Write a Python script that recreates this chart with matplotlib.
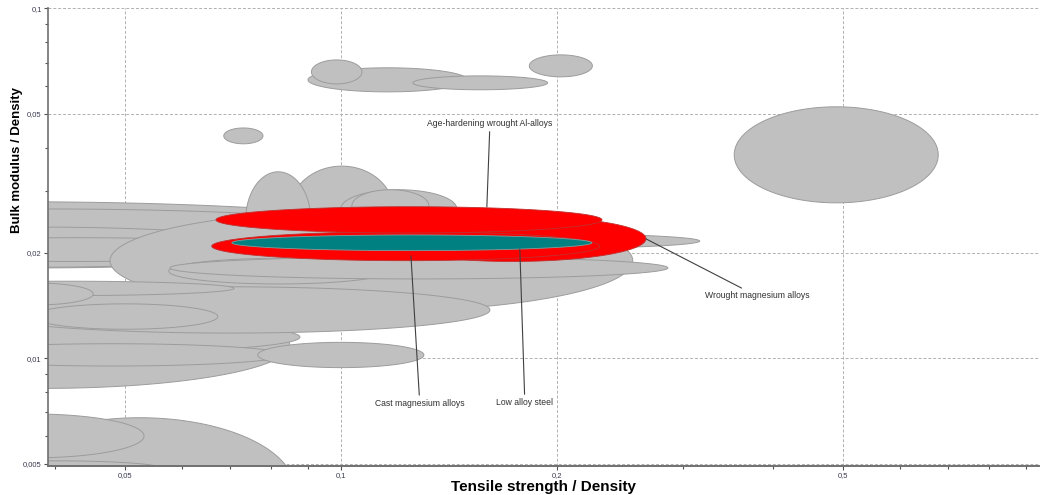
import numpy as np
import matplotlib
matplotlib.use('Agg')
import matplotlib.pyplot as plt
from matplotlib.ticker import FixedLocator, FixedFormatter, NullFormatter

plt.rcParams['font.family'] = ['Liberation Sans', 'DejaVu Sans']

# background material families: (low, high) ranges of each property
bg_strength = [
    (0.0093, 0.133), (0.0128, 0.117), (0.0176, 0.0822), (0.0207, 0.0877),
    (0.0849, 0.1185), (0.0737, 0.0908), (0.100, 0.145), (0.1036, 0.1326),
    (0.0176, 0.0849), (0.0243, 0.0877), (0.0276, 0.0836), (0.0766, 0.1305),
    (0.0477, 0.255), (0.0304, 0.1613), (0.0372, 0.0674), (0.0243, 0.0710),
    (0.0314, 0.0452), (0.0576, 0.1166), (0.0578, 0.2854), (0.0877, 0.316),
    (0.0319, 0.0863), (0.0259, 0.0532), (0.0285, 0.056),
    (0.090, 0.150), (0.091, 0.107), (0.126, 0.194), (0.183, 0.224),
    (0.0687, 0.0779), (0.353, 0.679),
]
bg_modulus = [
    (0.0181, 0.0280), (0.0197, 0.0267), (0.0182, 0.0237), (0.0189, 0.0221),
    (0.0196, 0.0354), (0.0181, 0.0341), (0.0236, 0.0303), (0.0245, 0.0303),
    (0.0082, 0.0145), (0.0104, 0.0127), (0.0095, 0.0110), (0.0094, 0.0111),
    (0.0136, 0.0265), (0.0118, 0.0160), (0.0121, 0.0143), (0.0151, 0.0166),
    (0.0142, 0.0164), (0.0163, 0.0193), (0.01685, 0.01948), (0.0205, 0.0228),
    (0.00262, 0.00676), (0.00519, 0.00693), (0.00464, 0.00509),
    (0.0577, 0.0676), (0.0608, 0.0712), (0.0585, 0.0641), (0.0637, 0.0736),
    (0.0410, 0.0455), (0.0278, 0.0523),
]

# highlighted families
hl_names = ['Wrought magnesium alloys', 'Cast magnesium alloys',
            'Age-hardening wrought Al-alloys', 'Low alloy steel']
hl_strength = [(0.113, 0.266), (0.0661, 0.2295), (0.0670, 0.231), (0.0705, 0.2236)]
hl_modulus = [(0.0189, 0.0255), (0.0190, 0.0230), (0.0228, 0.0271), (0.0203, 0.0225)]
hl_colors = ['#ff0000', '#ff0000', '#ff0000', '#008080']

# label anchor on the bubble and label position
label_xy = [(0.266, 0.02193), (0.1252, 0.01961), (0.1597, 0.02706), (0.1775, 0.02053)]
label_text_xy = [(0.3797, 0.01506), (0.1288, 0.00741), (0.1613, 0.0470), (0.1804, 0.00745)]

x_major = [0.05, 0.1, 0.2, 0.5]
x_major_labels = ['0,05', '0,1', '0,2', '0,5']
x_minor = [0.04, 0.06, 0.07, 0.08, 0.09, 0.3, 0.4, 0.6, 0.7, 0.8, 0.9]
y_major = [0.005, 0.01, 0.02, 0.05, 0.1]
y_major_labels = ['0,005', '0,01', '0,02', '0,05', '0,1']
y_minor = [0.006, 0.007, 0.008, 0.009, 0.03, 0.04, 0.06, 0.07, 0.08, 0.09]


def bubble(ax, xr, yr, fc, ec, lw, z):
    # ellipse inscribed in the property box, in log-log space
    t = np.linspace(0, 2 * np.pi, 240)
    lx, ly = np.log10(xr), np.log10(yr)
    cx, a = lx.mean(), (lx[1] - lx[0]) / 2
    cy, b = ly.mean(), (ly[1] - ly[0]) / 2
    ax.fill(10 ** (cx + a * np.cos(t)), 10 ** (cy + b * np.sin(t)),
            fc=fc, ec=ec, lw=lw, zorder=z)


fig = plt.figure(figsize=(10.41, 4.95), dpi=100)
ax = fig.add_axes([48 / 1041, 29 / 495, 991 / 1041, 458 / 495])
ax.set_xscale('log')
ax.set_yscale('log')
ax.set_xlim(0.0391, 0.938)
ax.set_ylim(0.00492, 0.1002)

for i, (xr, yr) in enumerate(zip(bg_strength, bg_modulus)):
    bubble(ax, xr, yr, '#c0c0c0', '#9c9c9c', 0.7, 2 + i * 0.01)

for i, (xr, yr, c) in enumerate(zip(hl_strength, hl_modulus, hl_colors)):
    ec = '#c03030' if c == '#ff0000' else '#7aa0a0'
    bubble(ax, xr, yr, c, ec, 0.6, 3 + i * 0.01)

for name, xy, txy in zip(hl_names, label_xy, label_text_xy):
    ax.annotate(name, xy=xy, xytext=txy, ha='center', va='center',
                fontsize=6.2, color='#303030', zorder=5,
                arrowprops=dict(arrowstyle='-', color='#404040', lw=0.8,
                                shrinkA=1, shrinkB=0))

ax.xaxis.set_major_locator(FixedLocator(x_major))
ax.xaxis.set_major_formatter(FixedFormatter(x_major_labels))
ax.xaxis.set_minor_locator(FixedLocator(x_minor))
ax.xaxis.set_minor_formatter(NullFormatter())
ax.yaxis.set_major_locator(FixedLocator(y_major))
ax.yaxis.set_major_formatter(FixedFormatter(y_major_labels))
ax.yaxis.set_minor_locator(FixedLocator(y_minor))
ax.yaxis.set_minor_formatter(NullFormatter())

ax.set_axisbelow(True)
ax.grid(True, which='major', ls=(0, (3, 2)), color='#b0b0b0', lw=0.7)

for s in ['top', 'right']:
    ax.spines[s].set_visible(False)
ax.spines['left'].set_color('#707070')
ax.spines['left'].set_linewidth(1.2)
ax.spines['bottom'].set_color('#707070')
ax.spines['bottom'].set_linewidth(1.4)

ax.tick_params(which='both', direction='out', colors='#505050',
               labelcolor='#3a3a50', labelsize=5.5, width=0.8)
ax.tick_params(which='major', length=3, pad=1.5)
ax.tick_params(which='minor', length=2.5)

ax.set_xlabel('Tensile strength / Density', fontsize=11, fontweight='bold')
ax.set_ylabel('Bulk modulus / Density', fontsize=9.5, fontweight='bold')
ax.xaxis.set_label_coords(0.5, -0.030)
ax.yaxis.set_label_coords(-0.0255, 0.668)

fig.savefig('out.png', dpi=100)
